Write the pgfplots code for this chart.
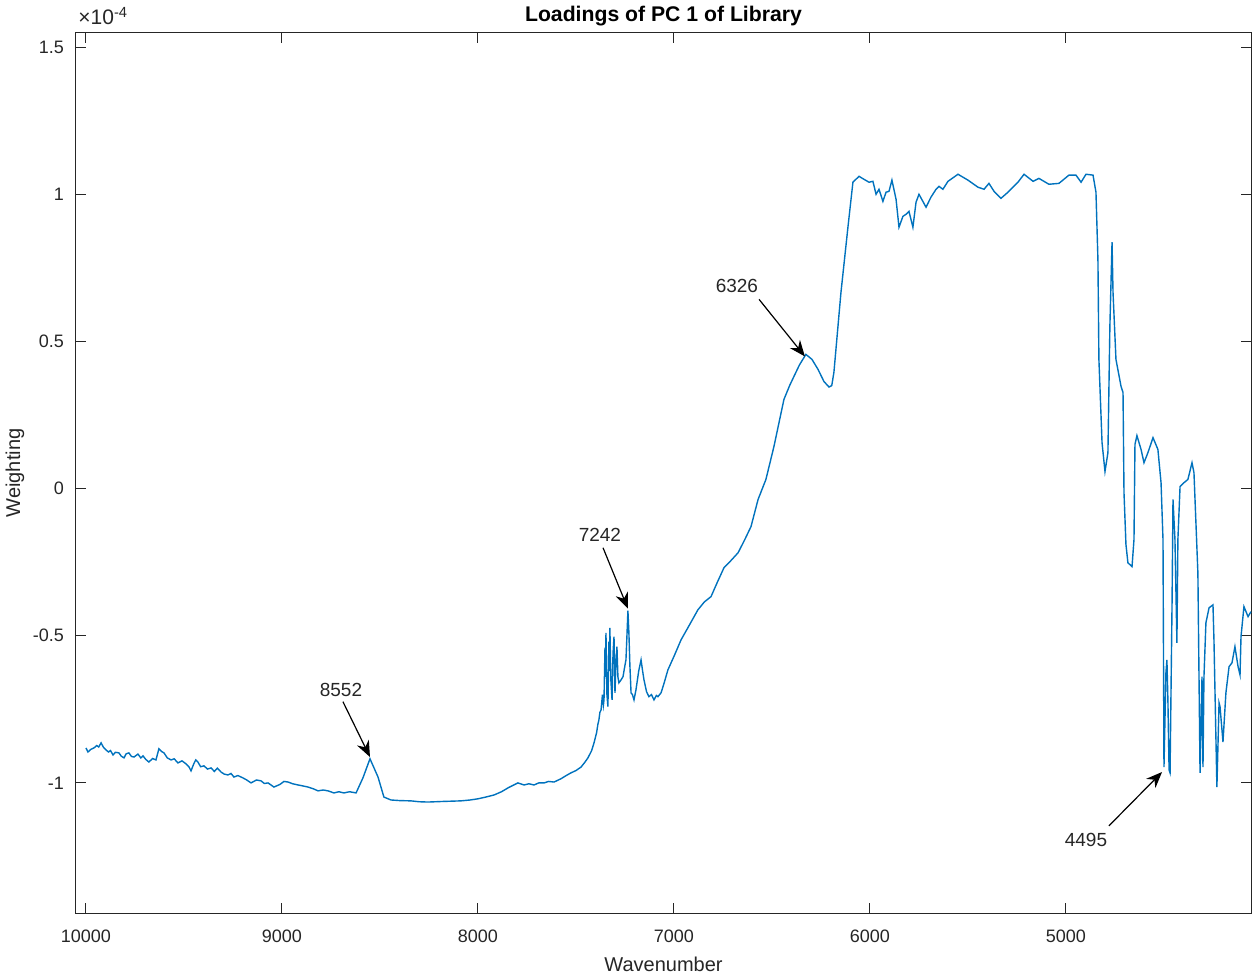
\documentclass[border=0pt]{standalone}
\usepackage{fontspec}
\setmainfont{Liberation Sans}
\usepackage{pgfplots}
\pgfplotsset{compat=1.18}
\usetikzlibrary{arrows.meta}
\definecolor{mblue}{RGB}{0,114,189}
\definecolor{axgray}{gray}{0.15}

\begin{document}
\begin{tikzpicture}
\begin{axis}[
    scale only axis,
    width=587.5pt, height=440pt,
    x dir=reverse,
    xmin=4056, xmax=10051,
    ymin=-1.442, ymax=1.548,
    xtick={5000,6000,7000,8000,9000,10000},
    ytick={-1,-0.5,0,0.5,1,1.5},
    scaled x ticks=false,
    scaled y ticks=false,
    tick align=inside,
    major tick length=5pt,
    axis line style={axgray, line width=0.5pt},
    tick style={axgray, line width=0.5pt},
    /pgf/number format/assume math mode=true,
    /pgf/number format/set thousands separator={},
    ticklabel style={font=\fontsize{9}{10}\selectfont, text=axgray},
    xticklabel style={anchor=north, yshift=-5pt},
    yticklabel style={anchor=east, xshift=-2.5pt},
    xlabel={Wavenumber},
    ylabel={Weighting},
    every axis x label/.style={at={([yshift=-25.5pt]axis description cs:0.5,0)}, anchor=center, font=\fontsize{10}{12}\selectfont, text=axgray},
    every axis y label/.style={at={([xshift=-30.5pt]axis description cs:0,0.5)}, rotate=90, anchor=center, font=\fontsize{10}{12}\selectfont, text=axgray},
    title={Loadings of PC 1 of Library},
    every axis title/.style={at={([yshift=5.5pt]axis description cs:0.5,1)}, anchor=base, font=\fontsize{10.6}{12}\selectfont\bfseries},
    clip=false,
]
\addplot[mblue, line width=0.7pt, mark=none] table {
x y
10000 -0.881
9990 -0.895
9975 -0.886
9959 -0.881
9945 -0.873
9935 -0.878
9923 -0.864
9910 -0.880
9898 -0.888
9885 -0.895
9875 -0.890
9862 -0.905
9850 -0.896
9832 -0.898
9820 -0.909
9806 -0.915
9795 -0.901
9781 -0.898
9768 -0.910
9755 -0.912
9735 -0.902
9720 -0.915
9709 -0.908
9695 -0.920
9679 -0.929
9660 -0.917
9643 -0.922
9628 -0.884
9615 -0.893
9602 -0.898
9585 -0.915
9566 -0.922
9550 -0.918
9531 -0.932
9510 -0.925
9490 -0.935
9475 -0.945
9464 -0.959
9450 -0.935
9440 -0.922
9429 -0.929
9415 -0.945
9398 -0.942
9380 -0.953
9362 -0.949
9345 -0.961
9330 -0.950
9311 -0.963
9295 -0.970
9276 -0.973
9260 -0.968
9245 -0.980
9225 -0.975
9199 -0.983
9180 -0.990
9158 -1.000
9130 -0.990
9107 -0.993
9090 -1.002
9071 -1.000
9041 -1.014
9010 -1.005
8990 -0.995
8969 -0.997
8945 -1.003
8918 -1.007
8895 -1.010
8867 -1.014
8840 -1.020
8816 -1.027
8790 -1.024
8765 -1.027
8735 -1.034
8710 -1.030
8684 -1.034
8655 -1.030
8622 -1.034
8587 -0.983
8551 -0.918
8510 -0.980
8480 -1.048
8444 -1.058
8400 -1.060
8342 -1.061
8300 -1.064
8255 -1.065
8180 -1.063
8087 -1.061
8040 -1.058
8000 -1.054
7960 -1.048
7918 -1.041
7880 -1.030
7847 -1.017
7796 -1.000
7765 -1.007
7740 -1.003
7714 -1.007
7690 -1.000
7663 -1.000
7640 -0.995
7612 -0.997
7577 -0.986
7550 -0.975
7526 -0.966
7500 -0.958
7474 -0.946
7455 -0.930
7439 -0.915
7420 -0.890
7408 -0.864
7395 -0.830
7388 -0.800
7383 -0.786
7378 -0.760
7372 -0.752
7365 -0.700
7360 -0.735
7357 -0.718
7352 -0.540
7349 -0.640
7347 -0.490
7342 -0.700
7337 -0.741
7332 -0.520
7330 -0.620
7327 -0.473
7322 -0.650
7316 -0.718
7311 -0.560
7306 -0.503
7301 -0.694
7296 -0.590
7291 -0.537
7286 -0.640
7281 -0.660
7270 -0.650
7260 -0.639
7250 -0.600
7245 -0.582
7240 -0.500
7235 -0.415
7230 -0.490
7225 -0.600
7219 -0.694
7212 -0.700
7204 -0.718
7194 -0.684
7180 -0.620
7168 -0.582
7160 -0.620
7153 -0.650
7140 -0.690
7128 -0.707
7115 -0.700
7102 -0.718
7090 -0.703
7082 -0.707
7066 -0.694
7050 -0.660
7031 -0.616
7000 -0.570
6964 -0.514
6920 -0.462
6878 -0.412
6845 -0.385
6811 -0.367
6780 -0.320
6745 -0.269
6710 -0.245
6673 -0.218
6640 -0.175
6607 -0.129
6571 -0.037
6531 0.031
6490 0.143
6439 0.303
6410 0.350
6388 0.381
6360 0.420
6327 0.456
6296 0.439
6265 0.405
6235 0.364
6209 0.345
6195 0.350
6184 0.395
6148 0.667
6112 0.891
6087 1.041
6056 1.061
6031 1.051
6005 1.041
5985 1.044
5969 1.000
5954 1.017
5934 0.976
5918 1.007
5903 1.010
5888 1.048
5867 0.983
5852 0.888
5832 0.925
5816 0.932
5801 0.942
5781 0.888
5765 0.973
5750 1.000
5714 0.956
5689 0.990
5663 1.017
5648 1.027
5628 1.017
5602 1.044
5551 1.068
5500 1.048
5449 1.024
5418 1.017
5393 1.037
5367 1.010
5332 0.986
5296 1.007
5245 1.041
5214 1.068
5168 1.044
5138 1.054
5087 1.034
5036 1.037
4985 1.065
4949 1.065
4923 1.041
4898 1.068
4862 1.065
4847 1.007
4837 0.779
4832 0.439
4816 0.156
4801 0.058
4786 0.122
4776 0.551
4765 0.837
4760 0.667
4745 0.439
4719 0.347
4709 0.327
4704 -0.014
4694 -0.190
4684 -0.252
4663 -0.265
4653 -0.173
4648 0.150
4638 0.180
4617 0.133
4602 0.088
4582 0.122
4556 0.173
4531 0.133
4515 0.020
4505 -0.173
4500 -0.946
4490 -0.626
4485 -0.582
4480 -0.718
4474 -0.956
4469 -0.966
4459 -0.401
4454 -0.037
4444 -0.173
4434 -0.524
4429 -0.173
4418 0.007
4398 0.020
4378 0.031
4357 0.088
4347 0.054
4327 -0.286
4316 -0.966
4306 -0.639
4301 -0.946
4296 -0.639
4286 -0.456
4270 -0.405
4250 -0.395
4245 -0.514
4230 -1.014
4219 -0.728
4214 -0.741
4199 -0.861
4184 -0.694
4168 -0.605
4153 -0.592
4138 -0.537
4122 -0.605
4112 -0.633
4107 -0.503
4092 -0.401
4071 -0.435
4056 -0.418
};
% annotations
\draw[black, line width=0.6pt, -{Stealth[length=8pt,width=6.5pt]}] (axis cs:8689,-0.724) -- (axis cs:8551,-0.912);
\node[font=\fontsize{9.5}{11}\selectfont, text=axgray] at (axis cs:8699,-0.684) {8552};
\draw[black, line width=0.6pt, -{Stealth[length=8pt,width=6.5pt]}] (axis cs:7362,-0.201) -- (axis cs:7235,-0.408);
\node[font=\fontsize{9.5}{11}\selectfont, text=axgray] at (axis cs:7378,-0.156) {7242};
\draw[black, line width=0.6pt, -{Stealth[length=8pt,width=6.5pt]}] (axis cs:6566,0.643) -- (axis cs:6332,0.449);
\node[font=\fontsize{9.5}{11}\selectfont, text=axgray] at (axis cs:6679,0.687) {6326};
\draw[black, line width=0.6pt, -{Stealth[length=8pt,width=6.5pt]}] (axis cs:4781,-1.146) -- (axis cs:4510,-0.963);
\node[font=\fontsize{9.5}{11}\selectfont, text=axgray] at (axis cs:4898,-1.194) {4495};
\node[anchor=base west, font=\fontsize{10.5}{11}\selectfont, text=axgray, inner sep=0pt] at ([xshift=1pt,yshift=4pt]rel axis cs:0,1) {×10\textsuperscript{-4}};
\end{axis}
\pgfresetboundingbox
\path[use as bounding box] ([xshift=-38pt,yshift=-33pt]current axis.south west) rectangle ([xshift=4.5pt,yshift=16.5pt]current axis.north east);
\end{tikzpicture}
\end{document}
